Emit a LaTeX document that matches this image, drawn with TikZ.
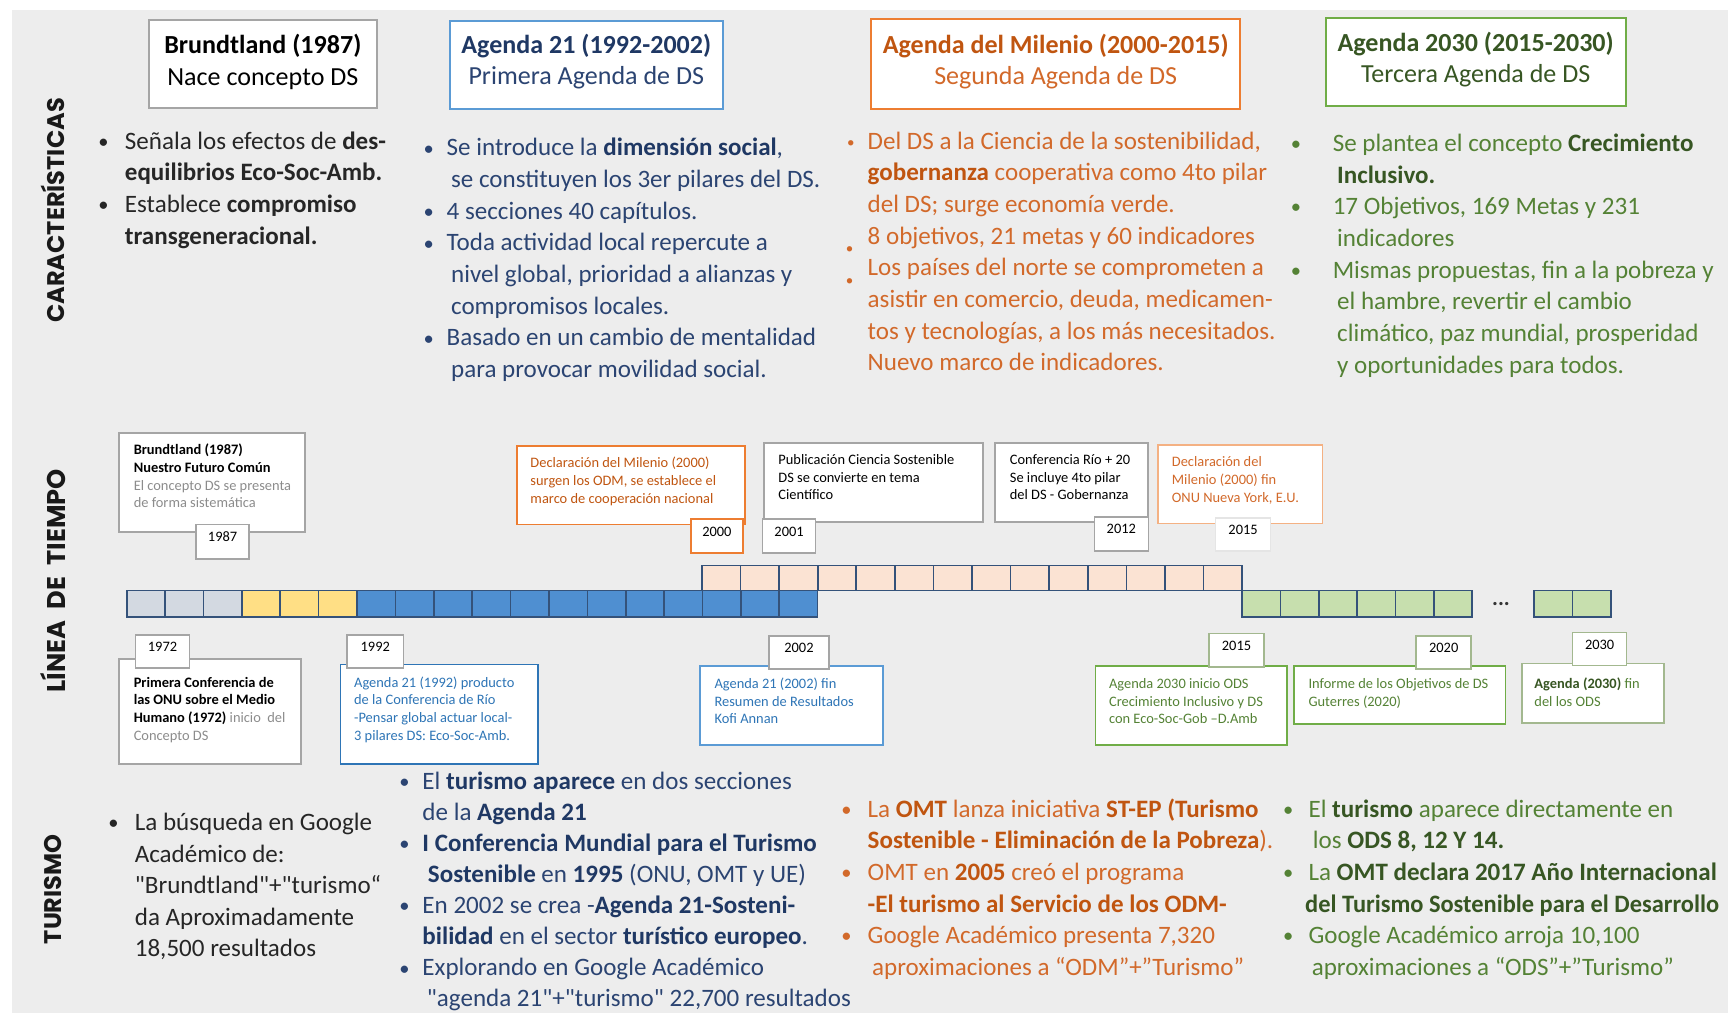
\documentclass[tikz,border=0pt]{standalone}
\usepackage{fontspec}
\setmainfont{Carlito}[Ligatures=TeXOff]
\newfontfamily\secfont{Poppins}
\usetikzlibrary{fit}
\definecolor{bgc}{HTML}{EDEDED}
\definecolor{navy}{HTML}{1F3864}
\definecolor{navyt}{HTML}{2B4472}
\definecolor{oranB}{HTML}{C05510}
\definecolor{oranT}{HTML}{D2692A}
\definecolor{orBord}{HTML}{ED7D31}
\definecolor{orLight}{HTML}{F4B183}
\definecolor{grnB}{HTML}{375623}
\definecolor{grnT}{HTML}{548235}
\definecolor{grBord}{HTML}{70AD47}
\definecolor{grGray}{HTML}{A3B88F}
\definecolor{bluB}{HTML}{2E75B6}
\definecolor{bluL}{HTML}{5B9BD5}
\definecolor{bluT}{HTML}{2E75B6}
\definecolor{grayB}{HTML}{A5A5A5}
\definecolor{txt}{HTML}{262626}
\definecolor{gtxt}{HTML}{8C8C8C}
\definecolor{cellB}{HTML}{34527A}
\definecolor{cGray}{HTML}{D3D9E1}
\definecolor{cYel}{HTML}{FFDF85}
\definecolor{cBlue}{HTML}{4F8FD1}
\definecolor{cOr}{HTML}{FBE3D3}
\definecolor{cGrn}{HTML}{C7DFAE}
\newcommand\BStr{\rule{0pt}{10.5pt}}
\newcommand\SStr{\rule{0pt}{6.2pt}}
\newcommand\bu[1]{\makebox[#1][l]{\raisebox{0.4pt}{\scalebox{0.82}{•}}}}
\newcommand\Bor[1]{\textcolor{oranB}{\textbf{#1}}}
\newcommand\Bgr[1]{\textcolor{grnB}{\textbf{#1}}}
\newcommand\Bnv[1]{\textcolor{navy}{\textbf{#1}}}
\newcommand\wsp{\hspace{3pt} }
\begin{document}
\begin{tikzpicture}[x=0.55pt,y=-0.55pt,
  hbox/.style={draw=#1, fill=white, line width=1pt, inner sep=0pt},
  cbox/.style={draw=#1, fill=white, line width=0.9pt, inner sep=0pt},
  ybox/.style={draw=#1, fill=white, line width=0.8pt, inner sep=0pt, font=\fontsize{7.2}{8.8}\selectfont, text=black},
  htext/.style={align=center, inner sep=0pt, font=\fontsize{13}{15.7}\selectfont},
  body/.style={anchor=north west, inner sep=0pt, align=left, font=\fontsize{12.5}{15.8}\selectfont},
  small/.style={anchor=north west, inner sep=0pt, align=left, font=\fontsize{7.2}{8.8}\selectfont},
  sect/.style={rotate=90, inner sep=0pt, font=\secfont\bfseries\fontsize{12}{14}\selectfont, text=black!90},
  cell/.style={draw=cellB, line width=0.8pt},
  dotb/.style={inner sep=0pt, text=oranT, font=\fontsize{7.5}{9}\selectfont}
]
\useasboundingbox (0,0) rectangle (1568,919);
\fill[bgc] (11,9) rectangle (1568,919);

% section labels
\node[sect] (sCar) at (48,191) {CARACTERÍSTICAS};
\node[sect, font=\secfont\bfseries\fontsize{12.8}{14}\selectfont] (sLin) at (48,527) {LÍNEA\wsp DE\wsp TIEMPO};
\node[sect] (sTur) at (48,807) {TURISMO};

% header boxes
\node[hbox=grayB, fit={(135,18) (342,98)}] (h1) {};
\node[htext, text=black] (h1t) at (238.5,56) {\textbf{Brundtland (1987)}\\Nace concepto DS};
\node[hbox=bluL, fit={(408,19) (656,99)}] (h2) {};
\node[htext, text=navyt] (h2t) at (532,56) {\Bnv{Agenda 21 (1992-2002)}\\Primera Agenda de DS};
\node[hbox=orBord, fit={(790,17) (1125,99)}] (h3) {};
\node[htext, text=oranT] (h3t) at (958,56) {\Bor{Agenda del Milenio (2000-2015)}\\Segunda Agenda de DS};
\node[hbox=grBord, fit={(1203,16) (1475,96)}] (h4) {};
\node[htext, text=grnB] (h4t) at (1339,54) {\textbf{Agenda 2030 (2015-2030)}\\Tercera Agenda de DS};

% characteristics columns
\node[body, text=txt] (k1) at (89,116) {\BStr\bu{13.2pt}Señala los efectos de \textbf{des-}\\
\hspace*{13.2pt}\textbf{equilibrios Eco-Soc-Amb.}\\
\bu{13.2pt}Establece \textbf{compromiso}\\
\hspace*{13.2pt}\textbf{transgeneracional.}};
\node[body, text=navyt] (k2) at (384,122) {\BStr\bu{11.55pt}Se introduce la \Bnv{dimensión social},\\
\hspace*{13.75pt}se constituyen los 3er pilares del DS.\\
\bu{11.55pt}4 secciones 40 capítulos.\\
\bu{11.55pt}Toda actividad local repercute a\\
\hspace*{13.75pt}nivel global, prioridad a alianzas y\\
\hspace*{13.75pt}compromisos locales.\\
\bu{11.55pt}Basado en un cambio de mentalidad\\
\hspace*{13.75pt}para provocar movilidad social.};
\node[body, text=oranT] (k3) at (787,116) {\BStr Del DS a la Ciencia de la sostenibilidad,\\
\Bor{gobernanza} cooperativa como 4to pilar\\
del DS; surge economía verde.\\
8 objetivos, 21 metas y 60 indicadores\\
Los países del norte se comprometen a\\
asistir en comercio, deuda, medicamen-\\
tos y tecnologías, a los más necesitados.\\
Nuevo marco de indicadores.};
\node[dotb] (k3b1) at (772,131) {•};
\node[dotb] (k3b2) at (771,227) {•};
\node[dotb] (k3b3) at (771,256) {•};
\node[body, text=grnT] (k4) at (1171,118) {\BStr\bu{20.9pt}Se plantea el concepto \Bgr{Crecimiento}\\
\hspace*{23.1pt}\Bgr{Inclusivo.}\\
\bu{20.9pt}17 Objetivos, 169 Metas y 231\\
\hspace*{23.1pt}indicadores\\
\bu{20.9pt}Mismas propuestas, fin a la pobreza y\\
\hspace*{23.1pt}el hambre, revertir el cambio\\
\hspace*{23.1pt}climático, paz mundial, prosperidad\\
\hspace*{23.1pt}y oportunidades para todos.};

% timeline bars
\foreach \i [evaluate=\i as \xa using 115+\i*34.83] in {0,1,2}
  \filldraw[cell, fill=cGray] (\xa,536) rectangle ++(34.83,24);
\foreach \i [evaluate=\i as \xa using 115+\i*34.83] in {3,4,5}
  \filldraw[cell, fill=cYel] (\xa,536) rectangle ++(34.83,24);
\foreach \i [evaluate=\i as \xa using 115+\i*34.83] in {6,...,17}
  \filldraw[cell, fill=cBlue] (\xa,536) rectangle ++(34.83,24);
\foreach \i [evaluate=\i as \xa using 637+\i*35] in {0,...,13}
  \filldraw[cell, fill=cOr] (\xa,513) rectangle ++(35,23);
\foreach \i [evaluate=\i as \xa using 1127+\i*34.8] in {0,...,5}
  \filldraw[cell, fill=cGrn] (\xa,536) rectangle ++(34.8,24);
\foreach \i [evaluate=\i as \xa using 1392+\i*35] in {0,1}
  \filldraw[cell, fill=cGrn] (\xa,536) rectangle ++(35,24);
\node[inner sep=0pt, font=\fontsize{11}{12}\selectfont\bfseries, text=black!80] (dots) at (1362,548) {...};

% callouts above
\node[cbox=grayB, fit={(108,393) (277,483)}] (c1) {};
\node[small, text=black] (c1t) at (121,401) {\SStr\textbf{Brundtland (1987)}\\\textbf{Nuestro Futuro Común}\\\textcolor{gtxt}{El concepto DS se presenta}\\\textcolor{gtxt}{de forma sistemática}};
\node[ybox=grayB, fit={(178,476) (226,507)}] (y1987) {1987};

\node[cbox=orBord, fit={(469,405) (676,476)}] (c2) {};
\node[small, text=oranB] (c2t) at (481,413) {\SStr Declaración del Milenio (2000)\\surgen los ODM, se establece el\\marco de cooperación nacional};
\node[ybox=orBord, fit={(627,471) (674,502)}] (y2000) {2000};

\node[cbox=grayB, fit={(693,402) (892,474)}] (c3) {};
\node[small, text=black] (c3t) at (706,410) {\SStr Publicación Ciencia Sostenible\\DS se convierte en tema\\Científico};
\node[ybox=grayB, fit={(692,471) (740,502)}] (y2001) {2001};

\node[cbox=grayB, fit={(903,402) (1042,474)}] (c4) {};
\node[small, text=black] (c4t) at (916,410) {\SStr Conferencia Río + 20\\Se incluye 4to pilar\\del DS - Gobernanza};
\node[ybox=grayB, fit={(993,469) (1042,500)}] (y2012) {2012};

\node[cbox=orLight, fit={(1051,404) (1200,475)}] (c5) {};
\node[small, text=oranT] (c5t) at (1063,412) {\SStr Declaración del\\Milenio (2000) fin\\ONU Nueva York, E.U.};
\node[ybox=gray!20, fit={(1103,470) (1153,500)}] (y2015a) {2015};

% callouts below
\node[cbox=grayB, fit={(108,598) (273,693)}] (b1) {};
\node[small, text=black] (b1t) at (121,612) {\SStr\textbf{Primera Conferencia de}\\\textbf{las ONU sobre el Medio}\\\textbf{Humano (1972)} \textcolor{gtxt}{inicio\ \ del}\\\textcolor{gtxt}{Concepto DS}};
\node[ybox=grayB, fit={(123,576) (172,606)}] (y1972) {1972};

\node[cbox=bluB, fit={(309,603) (488,693)}] (b2) {};
\node[small, text=bluT] (b2t) at (321,612) {\SStr Agenda 21 (1992) producto\\de la Conferencia de Río\\-Pensar global actuar local-\\3 pilares DS: Eco-Soc-Amb.};
\node[ybox=grayB, fit={(315,576) (366,606)}] (y1992) {1992};

\node[cbox=bluL, fit={(635,604) (801,676)}] (b3) {};
\node[small, text=bluT] (b3t) at (648,613) {\SStr Agenda 21 (2002) fin\\Resumen de Resultados\\Kofi Annan};
\node[ybox=grayB, fit={(698,577) (752,607)}] (y2002) {2002};

\node[cbox=grBord, fit={(994,604) (1168,676)}] (b4) {};
\node[small, text=grnT] (b4t) at (1006,613) {\SStr Agenda 2030 inicio ODS\\Crecimiento Inclusivo y DS\\con Eco-Soc-Gob –D.Amb};
\node[ybox=grGray, fit={(1097,575) (1147,605)}] (y2015b) {2015};

\node[cbox=grBord, fit={(1174,604) (1366,657)}] (b5) {};
\node[small, text=grnT] (b5t) at (1187,613) {\SStr Informe de los Objetivos de DS\\Guterres (2020)};
\node[ybox=grGray, fit={(1285,577) (1335,607)}] (y2020) {2020};

\node[cbox=grGray, fit={(1381,602) (1510,656)}] (b6) {};
\node[small, text=grnT] (b6t) at (1392,613) {\SStr\Bgr{Agenda (2030)} fin\\del los ODS};
\node[ybox=grGray, fit={(1427,574) (1476,604)}] (y2030) {2030};

% turismo columns
\node[body, text=txt] (t1) at (98,734) {\BStr\bu{13.2pt}La búsqueda en Google\\
\hspace*{13.2pt}Académico de:\\
\hspace*{13.2pt}"Brundtland"+"turismo“\\
\hspace*{13.2pt}da Aproximadamente\\
\hspace*{13.2pt}18,500 resultados};
\node[body, text=navyt, font=\fontsize{12.5}{15.5}\selectfont] (t2) at (362,697) {\BStr\bu{11.55pt}El \Bnv{turismo aparece} en dos secciones\\
\hspace*{11.55pt}de la \Bnv{Agenda 21}\\
\bu{11.55pt}\Bnv{I Conferencia Mundial para el Turismo}\\
\hspace*{14.3pt}\Bnv{Sostenible} en \Bnv{1995} (ONU, OMT y UE)\\
\bu{11.55pt}En 2002 se crea -\Bnv{Agenda 21-Sosteni-}\\
\hspace*{11.55pt}\Bnv{bilidad} en el sector \Bnv{turístico europeo}.\\
\bu{11.55pt}Explorando en Google Académico\\
\hspace*{13.75pt}"agenda 21"+"turismo" 22,700 resultados};
\node[body, text=oranT] (t3) at (763,722) {\BStr\bu{13.2pt}La \Bor{OMT} lanza iniciativa \Bor{ST-EP (Turismo}\\
\hspace*{13.2pt}\Bor{Sostenible - Eliminación de la Pobreza}).\\
\bu{13.2pt}OMT en \Bor{2005} creó el programa\\
\hspace*{13.2pt}\Bor{-El turismo al Servicio de los ODM-}\\
\bu{13.2pt}Google Académico presenta 7,320\\
\hspace*{15.4pt}aproximaciones a “ODM”+”Turismo”};
\node[body, text=grnT] (t4) at (1164,722) {\BStr\bu{12.65pt}El \Bgr{turismo} aparece directamente en\\
\hspace*{14.85pt}los \Bgr{ODS 8, 12 Y 14.}\\
\bu{12.65pt}La \Bgr{OMT declara 2017 Año Internacional}\\
\hspace*{11pt}\scalebox{0.975}[1]{\Bgr{del Turismo Sostenible para el Desarrollo}}\\
\bu{12.65pt}Google Académico arroja 10,100\\
\hspace*{14.3pt}aproximaciones a “ODS”+”Turismo”};
\end{tikzpicture}
\end{document}
